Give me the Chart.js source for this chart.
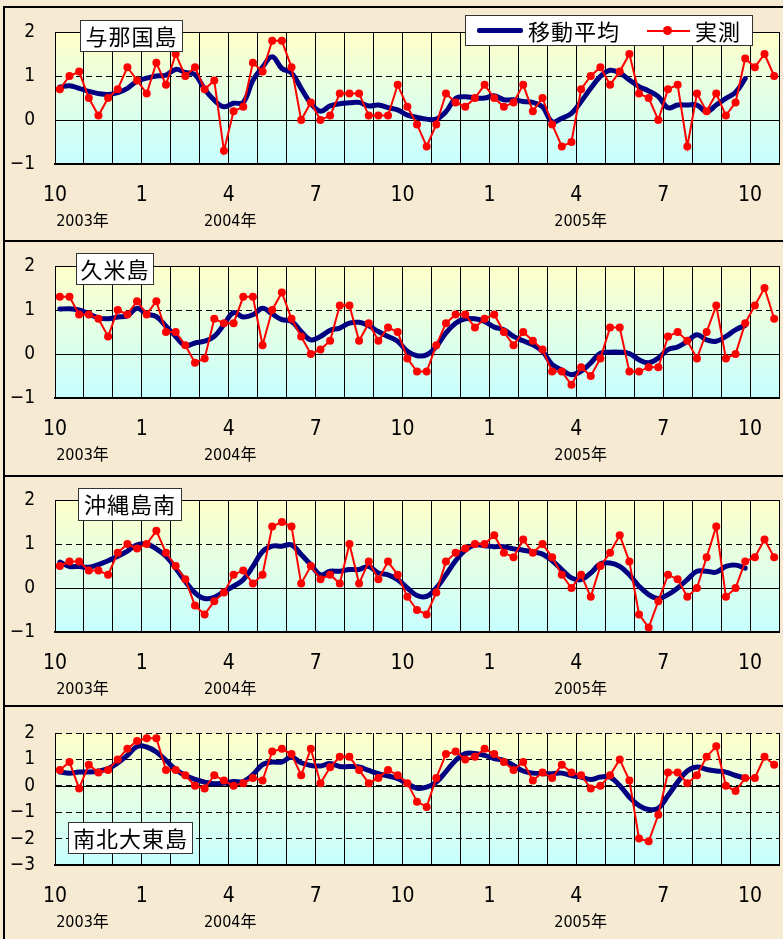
<!DOCTYPE html>
<html lang="ja">
<head>
<meta charset="utf-8">
<title>海面水位偏差</title>
<script src="https://cdn.jsdelivr.net/npm/chart.js@4.4.0/dist/chart.umd.min.js"></script>
<style>
  html, body { margin: 0; padding: 0; }
  body {
    width: 783px; height: 939px; position: relative; overflow: hidden;
    background: #f6ead3;
    font-family: "Noto Sans CJK JP", sans-serif;
  }
  canvas { position: absolute; left: 0; }
  .hline { position: absolute; left: 3px; width: 780px; height: 2px; background: #000; z-index: 3; }
  .vline { position: absolute; left: 3px; top: 7px; width: 2px; height: 932px; background: #000; z-index: 3; }
  .title {
    position: absolute; z-index: 4; background: #fff; border: 1px solid #333;
    box-sizing: border-box; font-size: 22px; line-height: 29px; text-align: center;
    letter-spacing: 1px; color: #000;
  }
  #legend {
    position: absolute; z-index: 4; left: 465px; top: 15px; width: 288px; height: 31px;
    background: #fff; border: 1px solid #333; box-sizing: border-box;
  }
  #legend span { position: absolute; }
  #legend .lt { top: 0; font-size: 22px; line-height: 29px; letter-spacing: 1px; }
  #legend .navy { left: 11px; top: 12px; width: 46px; height: 5px; background: #000080; border-radius: 2px; }
  #legend .red { left: 181px; top: 14px; width: 43px; height: 2px; background: #ff0000; }
  #legend .dot { left: 197px; top: 10px; width: 9px; height: 9px; border-radius: 50%; background: #ff0000; }
</style>
</head>
<body>

<canvas id="c1" width="783" height="241" style="top:0px"></canvas>
<canvas id="c2" width="783" height="235" style="top:241px"></canvas>
<canvas id="c3" width="783" height="230" style="top:476px"></canvas>
<canvas id="c4" width="783" height="233" style="top:706px"></canvas>

<div class="hline" style="top:6px"></div>
<div class="hline" style="top:240px"></div>
<div class="hline" style="top:475px"></div>
<div class="hline" style="top:705px"></div>
<div class="vline"></div>

<div class="title" style="left:80px;top:20px;width:103px;height:32px">与那国島</div>
<div class="title" style="left:76px;top:253px;width:78px;height:32px">久米島</div>
<div class="title" style="left:78px;top:488px;width:104px;height:33px">沖縄島南</div>
<div class="title" style="left:68px;top:822px;width:125px;height:32px">南北大東島</div>

<div id="legend">
  <span class="navy"></span><span class="lt" style="left:62px">移動平均</span>
  <span class="red"></span><span class="dot"></span><span class="lt" style="left:229px">実測</span>
</div>

<script>
// x axis: months from Oct 2003, three values (dekads) per month
const monthTicks = ['10', '1', '4', '7', '10', '1', '4', '7', '10'];
const years = ['2003年', '2004年', '2005年'];
const yearAt = [0.95, 6.05, 18.15];

// 与那国島
const yonaguniObs = [0.7, 1.0, 1.1, 0.5, 0.1, 0.5, 0.7, 1.2, 0.9, 0.6, 1.3, 0.8, 1.5, 1.0, 1.2, 0.7, 0.9, -0.7, 0.2, 0.3, 1.3, 1.1,
  1.8, 1.8, 1.2, 0.0, 0.4, 0.0, 0.1, 0.6, 0.6, 0.6, 0.1, 0.1, 0.1, 0.8, 0.3, -0.1, -0.6, -0.1, 0.6, 0.4, 0.3, 0.5, 0.8, 0.5, 0.3, 0.4, 0.8,
  0.2, 0.5, -0.1, -0.6, -0.5, 0.7, 1.0, 1.2, 0.8, 1.1, 1.5, 0.6, 0.5, 0.0, 0.7, 0.8, -0.6, 0.6, 0.2, 0.6, 0.1, 0.4, 1.4, 1.2, 1.5, 1.0];
const yonaguniAvg = [0.75, 0.78, 0.72, 0.65, 0.6, 0.58, 0.62, 0.72, 0.88, 0.95, 1.0, 1.02, 1.15, 1.08, 1.03, 0.7, 0.45, 0.3, 0.38, 0.4, 0.9, 1.2,
  1.44, 1.17, 1.07, 0.72, 0.38, 0.2, 0.32, 0.37, 0.39, 0.4, 0.32, 0.34, 0.28, 0.23, 0.11, 0.06, 0.02, 0.02, 0.19, 0.49, 0.53, 0.5, 0.5, 0.55, 0.46, 0.46, 0.42,
  0.4, 0.3, -0.04, 0.04, 0.15, 0.42, 0.72, 0.99, 1.13, 1.07, 0.91, 0.76, 0.66, 0.53, 0.28, 0.34, 0.34, 0.34, 0.19, 0.34, 0.49, 0.63, 0.94];

// 久米島
const kumeObs = [1.3, 1.3, 0.9, 0.9, 0.8, 0.4, 1.0, 0.9, 1.2, 0.9, 1.2, 0.5, 0.5, 0.2, -0.2, -0.1, 0.8, 0.7, 0.7, 1.3, 1.3, 0.2,
  1.0, 1.4, 0.8, 0.4, 0.0, 0.1, 0.3, 1.1, 1.1, 0.3, 0.7, 0.3, 0.6, 0.5, -0.1, -0.4, -0.4, 0.2, 0.7, 0.9, 0.9, 0.6, 0.8, 0.9, 0.5, 0.2, 0.5,
  0.3, 0.1, -0.4, -0.4, -0.7, -0.3, -0.5, -0.1, 0.6, 0.6, -0.4, -0.4, -0.3, -0.3, 0.4, 0.5, 0.3, -0.1, 0.5, 1.1, -0.1, 0.0, 0.7, 1.1, 1.5, 0.8];
const kumeAvg = [1.02, 1.03, 1.0, 0.91, 0.82, 0.8, 0.84, 0.87, 1.04, 0.91, 0.85, 0.63, 0.4, 0.19, 0.25, 0.29, 0.4, 0.67, 0.94, 0.84, 0.89, 1.04,
  0.91, 0.78, 0.74, 0.51, 0.32, 0.4, 0.54, 0.59, 0.7, 0.72, 0.64, 0.51, 0.4, 0.29, 0.06, -0.04, -0.02, 0.17, 0.48, 0.7, 0.8, 0.8, 0.74, 0.61, 0.55, 0.4, 0.3,
  0.21, 0.06, -0.24, -0.36, -0.47, -0.39, -0.2, 0.02, 0.04, 0.04, 0.01, -0.13, -0.2, -0.09, 0.1, 0.16, 0.29, 0.44, 0.32, 0.29, 0.4, 0.55, 0.65];

// 沖縄島南
const okinawaObs = [0.5, 0.6, 0.6, 0.4, 0.4, 0.3, 0.8, 1.0, 0.9, 1.0, 1.3, 0.8, 0.5, 0.2, -0.4, -0.6, -0.3, -0.1, 0.3, 0.4, 0.1, 0.3,
  1.4, 1.5, 1.4, 0.1, 0.5, 0.2, 0.3, 0.1, 1.0, 0.1, 0.6, 0.2, 0.6, 0.3, -0.2, -0.5, -0.6, -0.1, 0.6, 0.8, 0.9, 1.0, 1.0, 1.2, 0.8, 0.7, 1.1,
  0.8, 1.0, 0.7, 0.3, 0.0, 0.3, -0.2, 0.5, 0.8, 1.2, 0.6, -0.6, -0.9, -0.3, 0.3, 0.2, -0.2, 0.0, 0.7, 1.4, -0.2, 0.0, 0.6, 0.7, 1.1, 0.7];
const okinawaAvg = [0.59, 0.49, 0.49, 0.47, 0.53, 0.62, 0.72, 0.84, 0.98, 1.0, 0.89, 0.72, 0.45, 0.15, -0.11, -0.24, -0.21, -0.08, 0.04, 0.19, 0.49, 0.83,
  0.95, 0.95, 0.98, 0.76, 0.53, 0.3, 0.38, 0.38, 0.42, 0.42, 0.49, 0.34, 0.3, 0.19, 0.0, -0.17, -0.19, 0.0, 0.3, 0.62, 0.86, 0.98, 0.96, 0.94, 0.94, 0.89, 0.86,
  0.82, 0.77, 0.62, 0.42, 0.23, 0.19, 0.34, 0.55, 0.57, 0.49, 0.3, 0.04, -0.15, -0.24, -0.15, 0.0, 0.19, 0.38, 0.38, 0.36, 0.49, 0.52, 0.45];

// 南北大東島
const daitoObs = [0.6, 0.9, -0.1, 0.8, 0.5, 0.6, 1.0, 1.4, 1.7, 1.8, 1.8, 0.6, 0.6, 0.4, 0.0, -0.1, 0.4, 0.2, 0.0, 0.1, 0.3, 0.2,
  1.3, 1.4, 1.2, 0.4, 1.4, 0.1, 0.7, 1.1, 1.1, 0.6, 0.1, 0.3, 0.6, 0.4, 0.1, -0.6, -0.8, 0.3, 1.2, 1.3, 1.0, 1.1, 1.4, 1.2, 0.9, 0.6, 0.9,
  0.2, 0.5, 0.3, 0.8, 0.5, 0.4, -0.1, 0.0, 0.4, 1.0, 0.2, -2.0, -2.1, -1.1, 0.5, 0.5, 0.1, 0.4, 1.1, 1.5, 0.0, -0.2, 0.3, 0.3, 1.1, 0.8];
const daitoAvg = [0.52, 0.48, 0.52, 0.52, 0.56, 0.65, 0.87, 1.15, 1.49, 1.47, 1.28, 0.96, 0.62, 0.39, 0.24, 0.14, 0.08, 0.1, 0.16, 0.16, 0.42, 0.8,
  0.9, 0.9, 1.09, 0.87, 0.77, 0.75, 0.84, 0.73, 0.73, 0.71, 0.58, 0.46, 0.37, 0.27, 0.08, -0.09, -0.05, 0.14, 0.54, 0.96, 1.22, 1.22, 1.15, 1.03, 0.96, 0.77, 0.56,
  0.48, 0.46, 0.46, 0.48, 0.39, 0.33, 0.24, 0.33, 0.33, 0.01, -0.43, -0.75, -0.9, -0.85, -0.37, 0.14, 0.56, 0.71, 0.62, 0.56, 0.52, 0.39, 0.29];

const numFont = '"Liberation Sans Narrow", "DejaVu Sans Condensed", "Noto Sans CJK JP", sans-serif';

// dekad index -> position in months
function toPoints(arr) {
    return arr.map((v, i) => ({ x: (i + 0.5) / 3, y: v }));
}

// plot background, solid zero line and year labels
const decor = {
    id: 'decor',
    beforeDraw(chart) {
        const a = chart.chartArea;
        const ctx = chart.ctx;
        const g = ctx.createLinearGradient(0, a.top, 0, a.bottom);
        g.addColorStop(0, '#ffffc8');
        g.addColorStop(0.5, '#e2ffe6');
        g.addColorStop(1, '#c6ffff');
        ctx.save();
        ctx.fillStyle = g;
        ctx.fillRect(a.left, a.top, a.right - a.left, a.bottom - a.top);
        ctx.restore();
    },
    beforeDatasetsDraw(chart, args, opts) {
        const a = chart.chartArea;
        const ctx = chart.ctx;
        const y0 = Math.round(chart.scales.y.getPixelForValue(0)) + 0.5;
        ctx.save();
        ctx.strokeStyle = '#000';
        ctx.lineWidth = 1;
        ctx.beginPath();
        ctx.moveTo(a.left, y0);
        ctx.lineTo(a.right, y0);
        if (opts.solidTop) {
            ctx.moveTo(a.left, a.top + 0.5);
            ctx.lineTo(a.right, a.top + 0.5);
        }
        ctx.stroke();
        ctx.restore();
    },
    afterDraw(chart) {
        const ctx = chart.ctx;
        const x = chart.scales.x;
        ctx.save();
        ctx.font = '16px ' + numFont;
        ctx.fillStyle = '#000';
        ctx.textAlign = 'center';
        ctx.textBaseline = 'middle';
        years.forEach((t, k) => {
            ctx.fillText(t, x.getPixelForValue(yearAt[k]), chart.chartArea.bottom + 58);
        });
        ctx.restore();
    }
};

function makeChart(id, obs, avg, p) {
    new Chart(document.getElementById(id), {
        type: 'line',
        data: {
            datasets: [{
                label: '実測',
                data: toPoints(obs),
                borderColor: '#ff0000',
                backgroundColor: '#ff0000',
                borderWidth: 2,
                pointRadius: 4,
                pointBorderWidth: 0,
                pointBackgroundColor: '#ff0000',
                tension: 0
            }, {
                label: '移動平均',
                data: toPoints(avg),
                borderColor: '#000080',
                borderWidth: 5,
                pointRadius: 0,
                tension: 0.4,
                borderCapStyle: 'round'
            }]
        },
        options: {
            responsive: false,
            animation: false,
            devicePixelRatio: 1,
            layout: { padding: { top: p.padTop, right: 2, left: 0, bottom: 0 } },
            plugins: {
                legend: { display: false },
                tooltip: { enabled: false },
                decor: { solidTop: p.solidTop }
            },
            scales: {
                x: {
                    type: 'linear',
                    min: 0,
                    max: 25,
                    afterFit: s => { s.height = p.axisH; },
                    ticks: {
                        stepSize: 1,
                        autoSkip: false,
                        maxRotation: 0,
                        padding: 0,
                        color: '#000',
                        font: { family: numFont, size: 21 },
                        callback: v => (v % 3 === 0 ? monthTicks[v / 3] : '')
                    },
                    // invisible tick marks keep the labels away from the axis
                    grid: { color: '#000', lineWidth: 1, drawTicks: true, tickLength: 19, tickColor: 'rgba(0,0,0,0)' },
                    border: { color: '#000', width: 2 }
                },
                y: {
                    min: p.yMin,
                    max: p.yMax,
                    afterFit: s => { s.width = 55; },
                    ticks: {
                        stepSize: 1,
                        autoSkip: false,
                        padding: 0,
                        color: '#000',
                        font: { family: numFont, size: 19 },
                        callback: v => (v < 0 ? '\u2212' + Math.abs(v) : String(v))
                    },
                    grid: { color: '#000', lineWidth: 1, drawTicks: true, tickLength: 20, tickColor: 'rgba(0,0,0,0)' },
                    border: { color: '#000', width: 1, dash: [6, 4] }
                }
            }
        },
        plugins: [decor]
    });
}

makeChart('c1', yonaguniObs, yonaguniAvg, { padTop: 32, axisH: 77, yMin: -1, yMax: 2, solidTop: true });
makeChart('c2', kumeObs, kumeAvg, { padTop: 25, axisH: 78, yMin: -1, yMax: 2, solidTop: true });
makeChart('c3', okinawaObs, okinawaAvg, { padTop: 24, axisH: 74, yMin: -1, yMax: 2, solidTop: true });
makeChart('c4', daitoObs, daitoAvg, { padTop: 27, axisH: 74, yMin: -3, yMax: 2, solidTop: false });
</script>
</body>
</html>
